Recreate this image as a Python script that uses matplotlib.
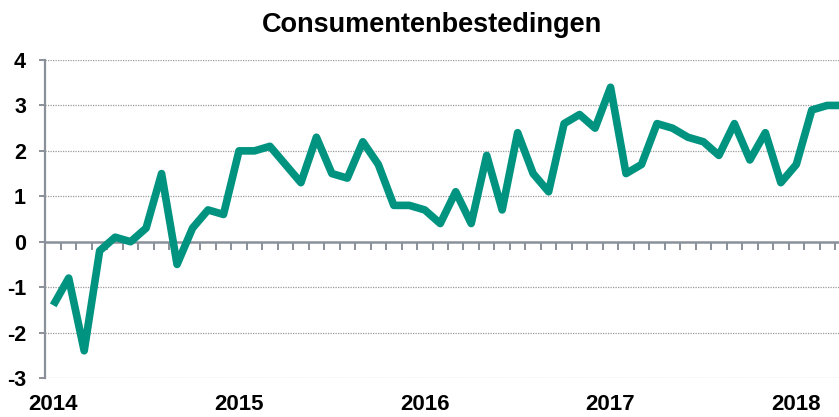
import numpy as np
import matplotlib.pyplot as plt
import matplotlib.transforms as mtransforms

# --- Data (monthly, Jan 2014 - Apr 2018) ---
values = [-1.4, -0.8, -2.4, -0.2, 0.1, 0.0, 0.3, 1.5, -0.5, 0.3, 0.7, 0.6,   # 2014
          2.0, 2.0, 2.1, 1.7, 1.3, 2.3, 1.5, 1.4, 2.2, 1.7, 0.8, 0.8,        # 2015
          0.7, 0.4, 1.1, 0.4, 1.9, 0.7, 2.4, 1.5, 1.1, 2.6, 2.8, 2.5,        # 2016
          3.4, 1.5, 1.7, 2.6, 2.5, 2.3, 2.2, 1.9, 2.6, 1.8, 2.4, 1.3,        # 2017
          1.7, 2.9, 3.0, 3.0]                                                # 2018
year_labels = ["2014", "2015", "2016", "2017", "2018"]
year_pos = [0, 12, 24, 36, 48]
y_ticks = [-3, -2, -1, 0, 1, 2, 3, 4]
title = "Consumentenbestedingen"

LINE_COLOR = "#009480"
AXIS_COLOR = "#8a9099"
GRID_COLOR = "#9a9a9a"

plt.rcParams.update({
    "font.family": "Liberation Sans",
    "font.weight": "bold",
})

fig = plt.figure(figsize=(8.39, 4.17), dpi=100)
ax = fig.add_axes([0.0542, 0.0935, 0.9595, 0.7626])

x = np.arange(len(values))
ax.plot(x, values, color=LINE_COLOR, lw=5.5, solid_joinstyle='round',
        solid_capstyle='butt', zorder=3, clip_on=False)

ax.set_xlim(-0.5, 51.5)
ax.set_ylim(-3, 4)

# horizontal dotted gridlines (except zero, which is the category axis)
for yv in y_ticks:
    if yv != 0:
        ax.axhline(yv, color=GRID_COLOR, lw=0.9, ls=(0, (1, 1)), zorder=1)

# spines
for s in ["top", "right"]:
    ax.spines[s].set_visible(False)
ax.spines["left"].set_color(AXIS_COLOR)
ax.spines["left"].set_linewidth(1.6)
ax.spines["bottom"].set_position(("data", 0))
ax.spines["bottom"].set_color(AXIS_COLOR)
ax.spines["bottom"].set_linewidth(1.8)

# y axis
ax.set_yticks(y_ticks)
ax.set_yticklabels([str(v) for v in y_ticks], fontsize=15.5, fontweight='bold')
ax.tick_params(axis='y', direction='out', length=4, width=1.4, color=AXIS_COLOR, pad=10)

# x axis: tick marks between months, year labels at the bottom
ax.set_xticks(np.arange(-0.5, 52, 1.0))
ax.set_xticklabels([])
ax.tick_params(axis='x', direction='out', length=6, width=1.4, color=AXIS_COLOR)

trans = mtransforms.blended_transform_factory(ax.transData, ax.transAxes)
for pos, lab in zip(year_pos, year_labels):
    ax.text(pos, -0.05, lab, transform=trans, ha='center', va='top',
            fontsize=16, fontweight='bold')

fig.text(432 / 839, 1 - 31.5 / 417, title, ha='center', va='baseline',
         fontsize=19.5, fontweight='bold')

fig.savefig("out.png", dpi=100)
